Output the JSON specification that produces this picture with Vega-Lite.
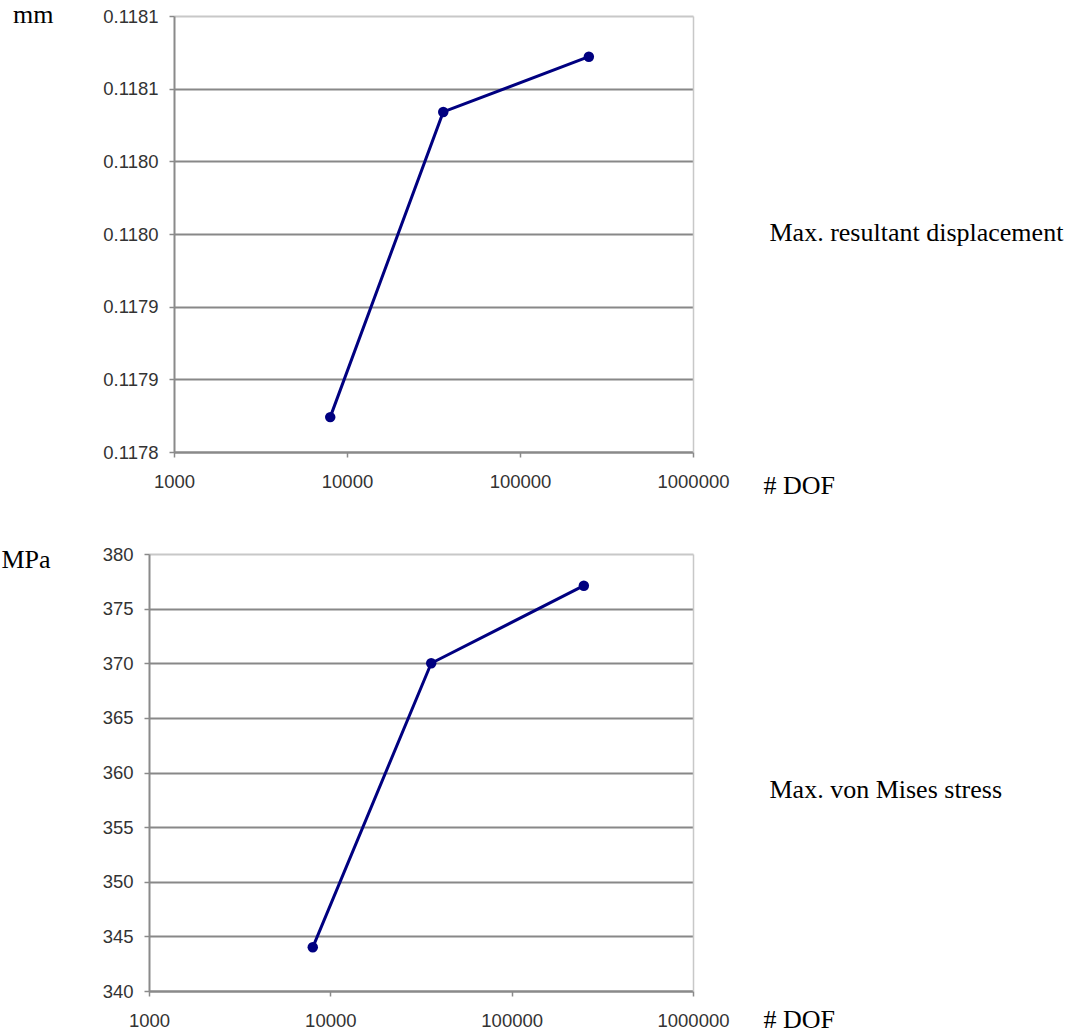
{
  "$schema": "https://vega.github.io/schema/vega-lite/v6.json",
  "background": "white",
  "padding": {"left": 0, "top": 1, "right": 5, "bottom": 0},
  "datasets": {
    "disp": [
      {"dof": 8000, "disp": 0.117824},
      {"dof": 36000, "disp": 0.118034},
      {"dof": 250000, "disp": 0.118072}
    ],
    "stress": [
      {"dof": 8000, "stress": 344.0},
      {"dof": 36000, "stress": 370.0},
      {"dof": 250000, "stress": 377.1}
    ]
  },
  "config": {
    "view": {"stroke": null},
    "axis": {
      "domainColor": "#8a8a8a",
      "domainWidth": 2,
      "tickColor": "#8a8a8a",
      "tickWidth": 1.5,
      "tickSize": 5,
      "gridColor": "#888888",
      "gridWidth": 2,
      "labelFont": "Liberation Sans",
      "labelFontSize": 18.5,
      "labelColor": "#333333",
      "labelOverlap": false,
      "labelFlush": false,
      "titleFont": "Liberation Serif",
      "titleFontSize": 26,
      "titleFontWeight": "normal",
      "titleColor": "#000000"
    }
  },
  "columns": 1,
  "align": "none",
  "spacing": 47,
  "concat": [
    {
      "width": 544,
      "height": 436,
      "data": {"name": "disp"},
      "encoding": {
        "x": {
          "field": "dof", "type": "quantitative",
          "scale": {"type": "log", "domain": [1000, 1000000], "range": [25, 544]},
          "axis": {"values": [1000, 10000, 100000, 1000000], "format": "d", "grid": false, "labelPadding": 15,
                   "title": "# DOF", "titleX": 614, "titleY": 41, "titleAlign": "left", "titleBaseline": "alphabetic", "titleAngle": 0}
        }
      },
      "layer": [
        {
          "mark": {"type": "line", "color": "#000080", "strokeWidth": 3},
          "encoding": {
            "y": {
              "field": "disp", "type": "quantitative",
              "scale": {"domain": [0.1178, 0.1181], "zero": false, "nice": false},
              "axis": {"values": [0.1178, 0.11785, 0.1179, 0.11795, 0.118, 0.11805, 0.1181], "offset": -25,
                       "labelExpr": "format(datum.value + 1e-9, '.4f')", "labelPadding": 11, "grid": true,
                       "gridColor": {"condition": {"test": "datum.value >= 0.11809", "value": "#c8c8c8"}, "value": "#888888"},
                       "title": "mm", "titleAngle": 0, "titleAlign": "right", "titleBaseline": "alphabetic", "titleX": -121, "titleY": 6}
            }
          }
        },
        {
          "mark": {"type": "point", "filled": true, "color": "#000080", "size": 110, "opacity": 1},
          "encoding": {
            "y": {
              "field": "disp", "type": "quantitative",
              "scale": {"domain": [0.1178, 0.1181], "zero": false, "nice": false},
              "axis": {"orient": "right", "domain": true, "domainColor": "#c8c8c8", "domainWidth": 1.5, "ticks": false, "labels": false, "grid": false,
                       "title": "Max. resultant displacement", "titleAngle": 0, "titleAlign": "left", "titleBaseline": "alphabetic", "titleX": 76, "titleY": 224}
            }
          }
        }
      ],
      "resolve": {"axis": {"y": "independent"}}
    },
    {
      "width": 544,
      "height": 437,
      "data": {"name": "stress"},
      "encoding": {
        "x": {
          "field": "dof", "type": "quantitative",
          "scale": {"type": "log", "domain": [1000, 1000000]},
          "axis": {"values": [1000, 10000, 100000, 1000000], "format": "d", "grid": false, "labelPadding": 15,
                   "title": "# DOF", "titleX": 614, "titleY": 36, "titleAlign": "left", "titleBaseline": "alphabetic", "titleAngle": 0}
        }
      },
      "layer": [
        {
          "mark": {"type": "line", "color": "#000080", "strokeWidth": 3},
          "encoding": {
            "y": {
              "field": "stress", "type": "quantitative",
              "scale": {"domain": [340, 380], "zero": false, "nice": false},
              "axis": {"values": [340, 345, 350, 355, 360, 365, 370, 375, 380], "format": "d", "labelPadding": 11, "grid": true,
                       "gridColor": {"condition": {"test": "datum.value >= 379", "value": "#c8c8c8"}, "value": "#888888"},
                       "title": "MPa", "titleAngle": 0, "titleAlign": "right", "titleBaseline": "alphabetic", "titleX": -99, "titleY": 13}
            }
          }
        },
        {
          "mark": {"type": "point", "filled": true, "color": "#000080", "size": 110, "opacity": 1},
          "encoding": {
            "y": {
              "field": "stress", "type": "quantitative",
              "scale": {"domain": [340, 380], "zero": false, "nice": false},
              "axis": {"orient": "right", "domain": true, "domainColor": "#c8c8c8", "domainWidth": 1.5, "ticks": false, "labels": false, "grid": false,
                       "title": "Max. von Mises stress", "titleAngle": 0, "titleAlign": "left", "titleBaseline": "alphabetic", "titleX": 76, "titleY": 243}
            }
          }
        }
      ],
      "resolve": {"axis": {"y": "independent"}}
    }
  ]
}
